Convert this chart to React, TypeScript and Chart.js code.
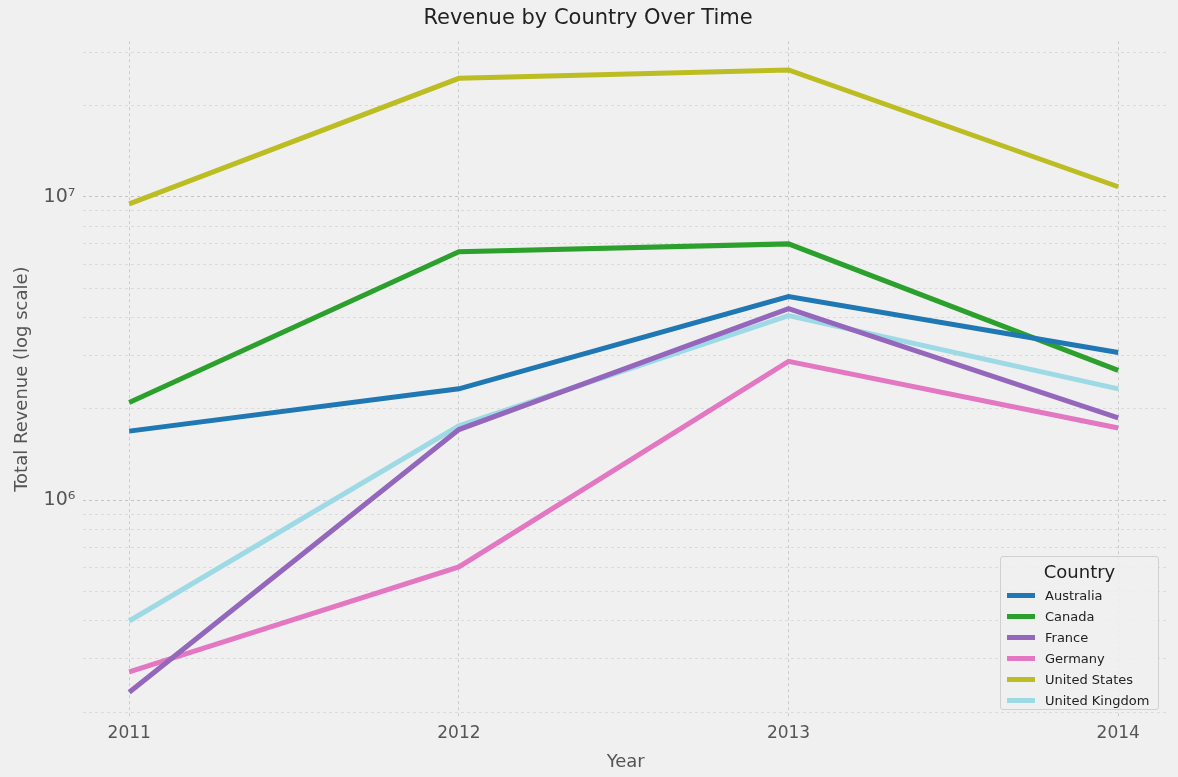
import React, { useEffect, useRef } from "react";
import { Chart, registerables } from "chart.js";
Chart.register(...registerables);

const years = [2011, 2012, 2013, 2014];
const countries = ["Australia", "Canada", "France", "Germany", "United States", "United Kingdom"];
const colors = ["#1f77b4", "#2ca02c", "#9467bd", "#e377c2", "#bcbd22", "#9edae5"];
const australia = [1690000, 2330000, 4690000, 3070000];
const canada = [2100000, 6590000, 7000000, 2680000];
const france = [233000, 1710000, 4280000, 1870000];
const germany = [272000, 603000, 2870000, 1730000];
const unitedStates = [9490000, 24600000, 26200000, 10800000];
const unitedKingdom = [400000, 1760000, 4060000, 2330000];
const series = [australia, canada, france, germany, unitedStates, unitedKingdom];
const majorLabels: Record<number, string> = { 1000000: "10⁶", 10000000: "10⁷" };

export default function App() {
  const ref = useRef<HTMLCanvasElement>(null);
  useEffect(() => {
    document.body.style.margin = "0";
    document.body.style.background = "#f0f0f0";
    const font = "'DejaVu Sans', sans-serif";
    const chart = new Chart(ref.current!, {
      type: "line",
      data: {
        datasets: countries.map((c, i) => ({
          label: c,
          data: years.map((y, j) => ({ x: y, y: series[i][j] })),
          borderColor: colors[i],
          backgroundColor: colors[i],
          borderWidth: 5,
          pointRadius: 0,
          tension: 0,
        })),
      },
      options: {
        animation: false,
        responsive: false,
        layout: { padding: { left: 8, right: 10, top: 0, bottom: 4 } },
        plugins: {
          legend: { display: false },
          tooltip: { enabled: false },
          title: { display: true, text: "Revenue by Country Over Time", color: "#222", font: { family: font, size: 21, weight: "normal" }, padding: { top: 6, bottom: 10 } },
        },
        scales: {
          x: {
            type: "linear", min: 2010.861, max: 2014.151,
            afterBuildTicks: (s: any) => { s.ticks = years.map((v) => ({ value: v })); },
            ticks: { color: "#555", font: { family: font, size: 17 }, callback: (v: any) => String(v), padding: 6 },
            grid: { color: "#cbcbcb", lineWidth: 1, drawTicks: false, tickBorderDash: [] } as any,
            border: { display: false, dash: [3, 3] },
            title: { display: true, text: "Year", color: "#555", font: { family: font, size: 18 }, padding: { top: 2, bottom: 0 } },
          },
          y: {
            type: "logarithmic", min: 193000, max: 32600000,
            afterBuildTicks: (s: any) => {
              const t: any[] = [];
              for (const p of [1e5, 1e6, 1e7]) for (let k = 1; k < 10; k++) { const v = k * p; if (v >= 193000 && v <= 32600000) t.push({ value: v }); }
              s.ticks = t;
            },
            ticks: { color: "#555", font: { family: font, size: 19 }, autoSkip: false, callback: (v: any) => majorLabels[Math.round(v)] ?? "", padding: 8 },
            grid: {
              color: (c: any) => (majorLabels[Math.round(c.tick?.value)] ? "#c4c4c4" : "#d6d6d6"),
              lineWidth: (c: any) => (majorLabels[Math.round(c.tick?.value)] ? 1 : 0.8),
              drawTicks: false,
            },
            border: { display: false, dash: [3, 3] },
            title: { display: true, text: "Total Revenue (log scale)", color: "#555", font: { family: font, size: 18 }, padding: { bottom: 2 } },
          },
        },
      } as any,
    });
    return () => chart.destroy();
  }, []);
  return (
    <div style={{ position: "relative", width: 1178, height: 777, background: "#f0f0f0" }}>
      <canvas ref={ref} width={1178} height={777} />
      <div style={{ position: "absolute", left: 1000, top: 556, width: 159, height: 154, background: "rgba(240,240,240,0.85)", border: "1px solid #d0d0d0", borderRadius: 3, fontFamily: "'DejaVu Sans', sans-serif", boxSizing: "border-box" }}>
        <div style={{ textAlign: "center", fontSize: 18, color: "#222", marginTop: 4, marginBottom: 3 }}>Country</div>
        {countries.map((c, i) => (
          <div key={c} style={{ display: "flex", alignItems: "center", height: 21, paddingLeft: 6 }}>
            <span style={{ display: "inline-block", width: 28, height: 5, background: colors[i], marginRight: 10 }} />
            <span style={{ fontSize: 13, color: "#222" }}>{c}</span>
          </div>
        ))}
      </div>
    </div>
  );
}
